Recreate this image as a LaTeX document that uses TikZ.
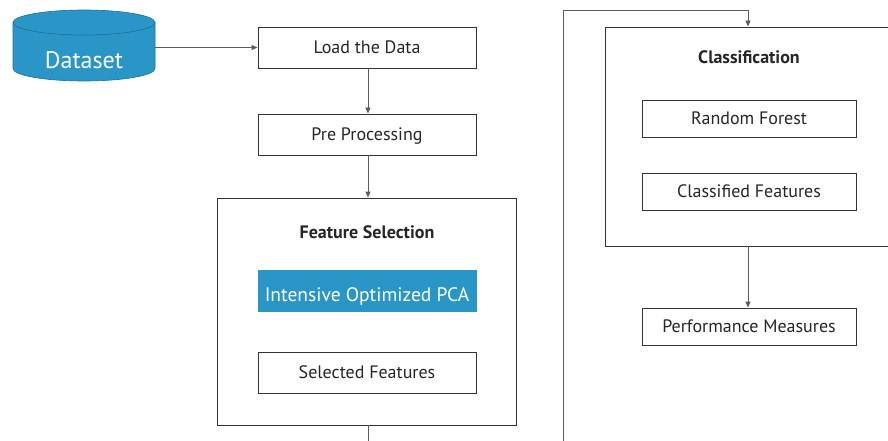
\documentclass[tikz,border=0pt]{standalone}
\usepackage{fontspec}
\setmainfont{PT Sans}
\usetikzlibrary{arrows.meta}
\definecolor{dsblue}{HTML}{2A96C8}
\definecolor{dsedge}{HTML}{1F6F96}
\definecolor{ln}{HTML}{333333}
\tikzset{
  procbox/.style={draw=ln, line width=0.9pt, minimum width=218pt, minimum height=41pt, inner sep=0pt, text height=13pt, text depth=1pt, font=\fontsize{18}{21}\selectfont, text=black!85},
  smallbox/.style={procbox, minimum width=214pt, minimum height=37pt},
  groupbox/.style={draw=ln, line width=0.9pt, inner sep=0pt},
  titletext/.style={font=\fontsize{18}{21}\selectfont\bfseries, text=black!85},
  conn/.style={draw=ln!80, line width=0.9pt},
  arr/.style={conn, -{Triangle[length=6pt,width=5pt]}},
}
\begin{document}
\begin{tikzpicture}[x=1pt,y=-1pt]
\useasboundingbox (0,0) rectangle (888,441);
% dataset cylinder
\fill[dsblue] (13,22.5) -- (13,68.5) arc[start angle=180,end angle=0,x radius=71,y radius=12.5] -- (155,22.5) arc[start angle=0,end angle=-180,x radius=71,y radius=12.5] -- cycle;
\draw[dsedge, line width=0.6pt] (13,22.5) -- (13,68.5) arc[start angle=180,end angle=0,x radius=71,y radius=12.5] -- (155,22.5);
\draw[dsedge, line width=0.6pt] (84,22.5) ellipse[x radius=71,y radius=12.5];
\node[inner sep=0pt, minimum width=142pt, minimum height=71pt] (ds) at (84,45.5) {};
\node[text=white, font=\fontsize{24}{28}\selectfont] (dstext) at (84,60) {Dataset};
% left column
\node[procbox] (load) at (367,47.5) {Load the Data};
\node[procbox] (pre) at (367,134.5) {Pre Processing};
\node[groupbox, minimum width=299pt, minimum height=227pt] (fs) at (366.5,311.5) {};
\node[titletext] (fst) at (367,232) {Feature Selection};
\node[procbox, fill=dsblue, draw=dsblue, text=white, text height=20pt, text depth=0pt, font=\fontsize{19.5}{23}\selectfont] (pca) at (367,291) {Intensive Optimized PCA};
\node[procbox] (sel) at (367,372.5) {Selected Features};
\coordinate (fsout) at (368,441);
% right column
\node[groupbox, minimum width=300pt, minimum height=219pt] (cls) at (755,136.5) {};
\node[titletext] (clst) at (749,57) {Classification};
\node[smallbox] (rf) at (749,118.5) {Random Forest};
\node[smallbox] (cf) at (749,191.5) {Classified Features};
\node[smallbox] (pm) at (749,326.5) {Performance Measures};
\coordinate (up0) at (563,441);
\coordinate (up1) at (563,10);
\coordinate (up2) at (748,10);
% connectors
\draw[arr] (ds.east |- load.west) -- (load.west);
\draw[arr] (load.south -| 368,0) -- (pre.north -| 368,0);
\draw[arr] (pre.south -| 368,0) -- (fs.north -| 368,0);
\draw[conn] (fs.south -| fsout) -- (fsout);
\draw[arr] (up0) -- (up1) -- (up2) -- (cls.north -| up2);
\draw[arr] (cls.south -| up2) -- (pm.north -| up2);
\end{tikzpicture}
\end{document}
